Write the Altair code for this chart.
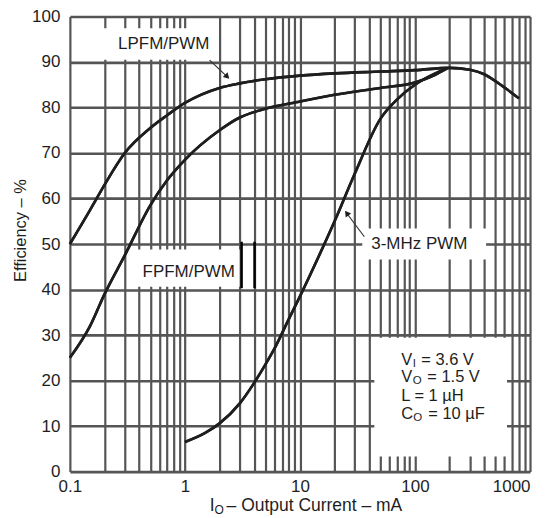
import altair as alt
import pandas as pd

# ---- curve data ----
lpfm_x = [0.1, 0.15, 0.2, 0.3, 0.5, 0.7, 1, 2, 3, 5, 10, 20, 50, 100, 200, 300, 400, 500, 630, 800]
lpfm_y = [50, 57.5, 63, 70, 75.5, 78.3, 81, 84.3, 85.3, 86.2, 87, 87.5, 87.9, 88.2, 88.7, 88.3, 87.3, 85.8, 84, 82]

fpfm_x = [0.1, 0.15, 0.2, 0.3, 0.5, 0.7, 1, 2, 3, 5, 10, 20, 50, 100, 150, 190]
fpfm_y = [25, 32, 39, 47.5, 58.5, 64, 68.5, 75, 77.8, 79.7, 81.3, 82.8, 84.3, 85.5, 87.2, 88.6]

mhz_x = [1, 1.5, 2, 3, 4, 5, 6, 8, 10, 15, 20, 30, 50, 70, 100, 150, 190]
mhz_y = [6.5, 8.5, 10.6, 15, 19.5, 23.5, 27, 33.5, 38.5, 48, 55, 65.5, 77.5, 81.8, 85, 87.5, 88.6]

# ---- axes ----
x_grid = [round(m * 10 ** e, 6) for e in range(-1, 3) for m in range(1, 10)] + [1000]
x_labels = ["0.1", "1", "10", "100", "1000"]
y_ticks = list(range(0, 101, 10))

# ---- annotations ----
box_x1 = [0.182, 0.352, 34.8, 44.3]
box_x2 = [1.81, 2.99, 415, 631]
box_y1 = [90.5, 40.6, 46.6, 3.3]
box_y2 = [97.4, 48.8, 53.4, 29.4]

label_text = ["LPFM/PWM", "FPFM/PWM", "3-MHz PWM"]
label_x = [0.655, 1.078, 109]
label_y = [93.9, 43.8, 49.9]

arrow_x1 = [1.64, 36.3]
arrow_y1 = [90.4, 51.6]
arrow_x2 = [2.3, 25.8]
arrow_y2 = [86.9, 56.6]
arrow_angle = [135, 324]

bar_x = [3.11, 4.03]
bar_y1 = [40.3, 40.3]
bar_y2 = [50.5, 50.5]

# parameter box text pieces
param_text = ["V", "I", "= 3.6 V", "V", "O", "= 1.5 V", "L = 1 µH", "C", "O", "= 10 µF"]
param_y = [24.6, 24.6, 24.6, 20.7, 20.7, 20.7, 16.6, 12.6, 12.6, 12.6]
param_dx = [0, 11.5, 20, 0, 11.5, 26, 0, 0, 12, 27]
param_dy = [0, 4, 0, 0, 4, 0, 0, 0, 4, 0]
param_size = [16.5, 11.5, 16.5, 16.5, 11.5, 16.5, 16.5, 16.5, 11.5, 16.5]
param_x0 = 76

xt_text = ["I", "O", "– Output Current – mA"]
xt_dx = [0, 5, 17]
xt_dy = [0, 3, 0]
xt_size = [17.5, 12, 17.5]
xt_x0 = 1.64
xt_y0 = -8.6

FONT = "Liberation Sans"
INK = "#1e1e1e"

xscale = alt.Scale(type="log", domain=[0.1, 1000], nice=False)
yscale = alt.Scale(domain=[0, 100], nice=False)

label_expr = "indexof(" + str(x_labels) + ", datum.label) >= 0 ? datum.label : ''"
xaxis = alt.Axis(
    values=x_grid, format="~g", labelExpr=label_expr, grid=True,
    gridColor="#555555", gridWidth=2.2, ticks=False, tickSize=0, domain=False,
    labelFontSize=17, labelPadding=7, labelOverlap=False, labelFlush=False,
    labelColor=INK, labelFont=FONT, title=None,
    labelAlign={"condition": {"test": "datum.value >= 999", "value": "right"}, "value": "center"},
)
yaxis = alt.Axis(
    values=y_ticks, grid=True, gridColor="#555555", gridWidth=2.6, ticks=False,
    tickSize=0, domain=False, labelFontSize=17, labelPadding=10, labelColor=INK,
    labelFont=FONT, title="Efficiency – %", titleFontSize=16.5, titleFontWeight="normal",
    titleFont=FONT, titleColor=INK, titleX=-49, titleY=214, titleAngle=270,
    titleBaseline="middle", titleAlign="center",
)


def X(f):
    return alt.X(f"{f}:Q", scale=xscale, axis=xaxis)


def Y(f):
    return alt.Y(f"{f}:Q", scale=yscale, axis=yaxis)


curves = pd.DataFrame(
    {
        "x": lpfm_x + fpfm_x + mhz_x,
        "y": lpfm_y + fpfm_y + mhz_y,
        "s": ["LPFM"] * len(lpfm_x) + ["FPFM"] * len(fpfm_x) + ["MHZ"] * len(mhz_x),
    }
)
boxes = pd.DataFrame({"x": box_x1, "x2": box_x2, "y": box_y1, "y2": box_y2})
labels = pd.DataFrame({"x": label_x, "y": label_y, "t": label_text})
arrows = pd.DataFrame({"x": arrow_x1, "y": arrow_y1, "x2": arrow_x2, "y2": arrow_y2, "a": arrow_angle})
bars = pd.DataFrame({"x": bar_x, "y": bar_y1, "y2": bar_y2})

lines = alt.Chart(curves).mark_line(interpolate="monotone", strokeWidth=2.6, color=INK).encode(
    x=X("x"), y=Y("y"), detail="s:N"
)
rects = alt.Chart(boxes).mark_rect(color="white").encode(
    x=X("x"), x2="x2", y=Y("y"), y2="y2"
)
arrow_lines = alt.Chart(arrows).mark_rule(color="#333", strokeWidth=1.2).encode(
    x=X("x"), x2="x2", y=Y("y"), y2="y2"
)
arrow_heads = alt.Chart(arrows).mark_point(shape="triangle", filled=True, size=45, color=INK, opacity=1).encode(
    x=X("x2"), y=Y("y2"), angle=alt.Angle("a:Q", scale=None)
)
black_bars = alt.Chart(bars).mark_rule(color="black", strokeWidth=2.5).encode(
    x=X("x"), y=Y("y"), y2="y2"
)
label_marks = alt.Chart(labels).mark_text(fontSize=17, font=FONT, color=INK, align="center", baseline="middle").encode(
    x=X("x"), y=Y("y"), text="t:N"
)

param_layers = []
for t, yy, dx, dy, sz in zip(param_text, param_y, param_dx, param_dy, param_size):
    df = pd.DataFrame({"x": [param_x0], "y": [yy], "t": [t]})
    param_layers.append(
        alt.Chart(df).mark_text(fontSize=sz, font=FONT, color=INK, align="left", baseline="middle", dx=dx, dy=dy).encode(
            x=X("x"), y=Y("y"), text="t:N"
        )
    )

xt_layers = []
for t, dx, dy, sz in zip(xt_text, xt_dx, xt_dy, xt_size):
    df = pd.DataFrame({"x": [xt_x0], "y": [xt_y0], "t": [t]})
    xt_layers.append(
        alt.Chart(df).mark_text(fontSize=sz, font=FONT, color=INK, align="left", baseline="alphabetic", dx=dx, dy=dy).encode(
            x=X("x"), y=Y("y"), text="t:N"
        )
    )

chart = alt.layer(
    lines, rects, arrow_lines, arrow_heads, black_bars, label_marks, lines, *param_layers, *xt_layers
).properties(
    width=461,
    height=456,
    autosize=alt.AutoSizeParams(type="none"),
    padding={"left": 62, "top": 8, "right": 12, "bottom": 46},
).configure_view(stroke="black", strokeWidth=3, fill="white").configure(font=FONT)

chart.save("out.html", embed_options={"renderer": "svg", "actions": False})
